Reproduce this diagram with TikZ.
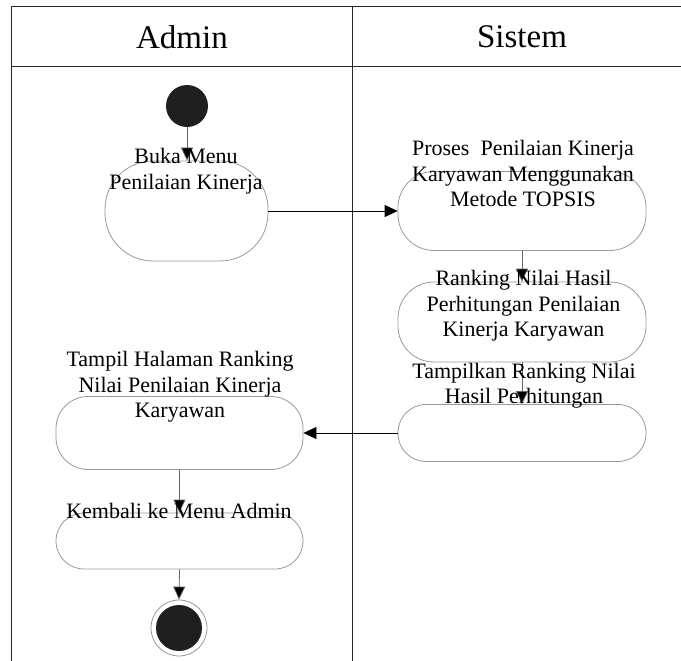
\documentclass[tikz,border=0pt]{standalone}
\usepackage{fontspec}
\setmainfont{Liberation Serif}
\usetikzlibrary{arrows.meta}
\begin{document}
\begin{tikzpicture}[x=1pt,y=-1pt,
  lane/.style={draw=black!85, line width=1pt},
  action/.style={draw=black!40, line width=0.8pt, rounded corners=28pt, inner sep=0pt},
  txt/.style={font=\fontsize{22}{25.5}\selectfont, align=center, inner sep=0pt},
  head/.style={font=\fontsize{33}{36}\selectfont, inner sep=0pt},
  flow/.style={draw=black!60, line width=0.8pt, -{Triangle[length=13pt,width=12pt,fill=black]}},
  hflow/.style={flow, draw=black},
  startdot/.style={circle, fill=black!88, minimum size=42pt, inner sep=0pt},
  enddot/.style={circle, draw=black!40, line width=0.8pt, fill=white, minimum size=56pt, inner sep=0pt},
  enddotin/.style={circle, fill=black!88, minimum size=46pt, inner sep=0pt}
]
\useasboundingbox (0,0) rectangle (681,661);

% swimlane frame
\coordinate (tl) at (11,7);
\coordinate (tr) at (681,7);
\coordinate (hl) at (11,67);
\coordinate (hr) at (681,67);
\coordinate (bl) at (11,661);
\coordinate (dt) at (352,7);
\coordinate (db) at (352,661);
\draw[lane] (tl) -- (tr);
\draw[lane] (hl) -- (hr);
\draw[lane] (tl) -- (bl);
\draw[lane] (dt) -- (db);

\node[head] (hadmin) at (182,37) {Admin};
\node[head] (hsistem) at (522,37) {Sistem};

% activity boxes
\node[action, rounded corners=48pt, minimum width=163pt, minimum height=100pt] (buka) at (186.5,211) {};
\node[action, rounded corners=36pt, minimum width=248pt, minimum height=79pt] (proses) at (522,211) {};
\node[action, rounded corners=36pt, minimum width=248pt, minimum height=80pt] (rank) at (522,322) {};
\node[action, minimum width=248pt, minimum height=57pt] (tampilkan) at (522,433) {};
\node[action, rounded corners=32pt, minimum width=247pt, minimum height=73pt] (tampil) at (179.5,433) {};
\node[action, minimum width=247pt, minimum height=56pt] (kembali) at (179.5,541) {};

% start and end
\node[startdot] (start) at (187,106) {};
\node[enddot] (stop) at (179,628) {};
\node[enddotin] (stopin) at (179,628) {};

% connectors
\draw[flow] (start) -- (buka.north -| start);
\draw[hflow] (buka.east) -- (proses.west);
\draw[flow] (proses.south) -- (rank.north);
\draw[flow] (rank.south) -- (tampilkan.north);
\draw[hflow] (tampilkan.west) -- (tampil.east);
\draw[flow] (tampil.south) -- (kembali.north);
\draw[flow] (kembali.south) -- (stop.north);

% labels
\node[txt] (tbuka) at (186,171) {Buka Menu\\Penilaian Kinerja};
\node[txt] (tproses) at (523,173.5) {Proses\ \ Penilaian Kinerja\\Karyawan Menggunakan\\Metode TOPSIS};
\node[txt] (trank) at (523.5,306) {Ranking Nilai Hasil\\Perhitungan Penilaian\\Kinerja Karyawan};
\node[txt] (ttampilkan) at (524,385.5) {Tampilkan Ranking Nilai\\Hasil Perhitungan};
\node[txt] (ttampil) at (180,387) {Tampil Halaman Ranking\\Nilai Penilaian Kinerja\\Karyawan};
\node[txt] (tkembali) at (179,511) {Kembali ke Menu Admin};
\end{tikzpicture}
\end{document}
